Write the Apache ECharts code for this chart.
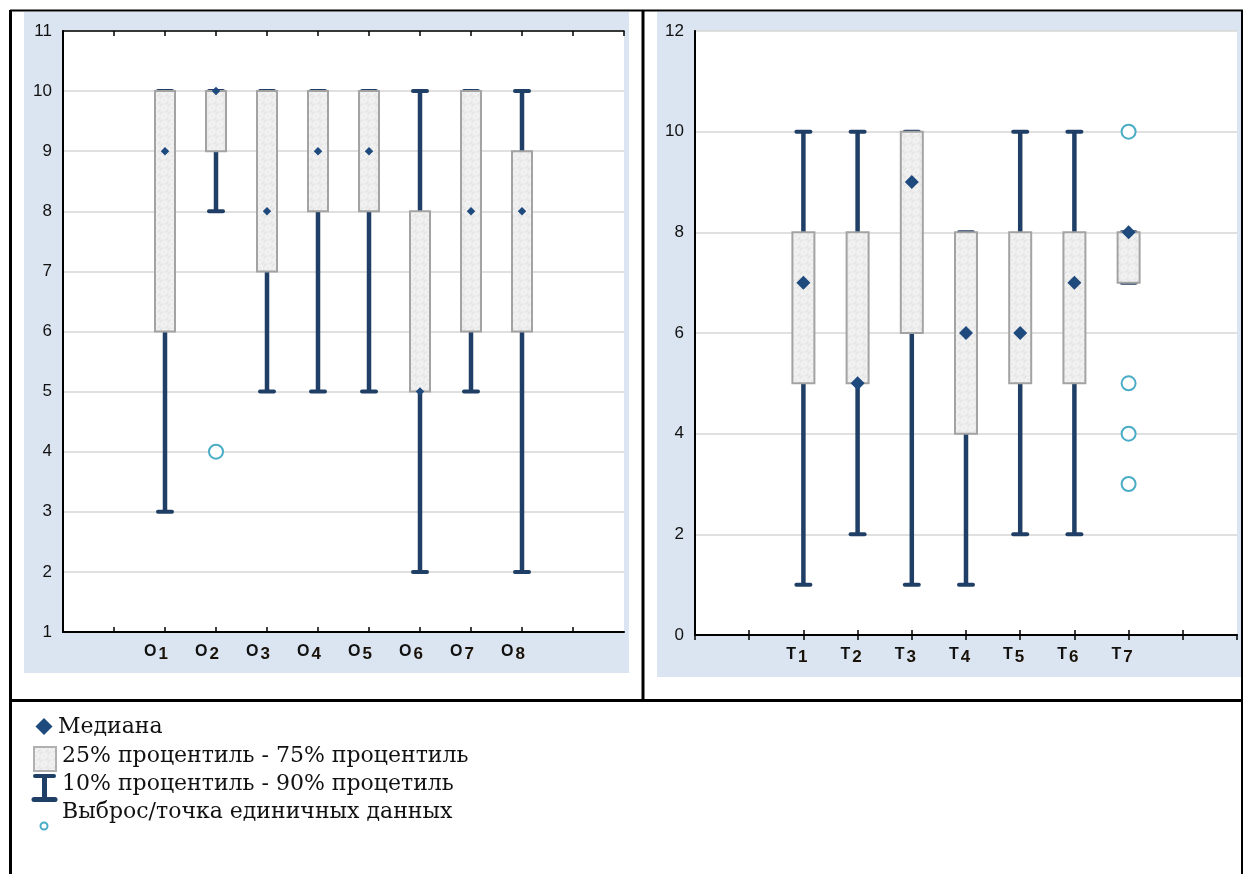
<!DOCTYPE html>
<html>
<head>
<meta charset="utf-8">
<title>Box plots</title>
<script src="https://cdn.jsdelivr.net/npm/echarts@6/dist/echarts.min.js"></script>
<style>
  html, body { margin: 0; padding: 0; background: #ffffff; }
  #chart { width: 1243px; height: 874px; }
</style>
</head>
<body>
<div id="chart"></div>
<script>
// ---- Left panel: O1..O8 (scale 1..11) ----
const categoriesO = ['O1', 'O2', 'O3', 'O4', 'O5', 'O6', 'O7', 'O8'];
const whiskerLowO = [3, 8, 5, 5, 5, 2, 5, 2];
const q1O = [6, 9, 7, 8, 8, 5, 6, 6];
const medianO = [9, 10, 8, 9, 9, 5, 8, 8];
const q3O = [10, 10, 10, 10, 10, 8, 10, 9];
const whiskerHighO = [10, 10, 10, 10, 10, 10, 10, 10];
const outliersO = [['O2', 4]];

// ---- Right panel: T1..T7 (scale 0..12) ----
const categoriesT = ['T1', 'T2', 'T3', 'T4', 'T5', 'T6', 'T7'];
const whiskerLowT = [1, 2, 1, 1, 2, 2, 7];
const q1T = [5, 5, 6, 4, 5, 5, 7];
const medianT = [7, 5, 9, 6, 6, 7, 8];
const q3T = [8, 8, 10, 8, 8, 8, 8];
const whiskerHighT = [10, 10, 10, 8, 10, 10, 8];
const outliersT = [['T7', 10], ['T7', 5], ['T7', 4], ['T7', 3]];

// Legend lines
const legendTexts = [
  'Медиана',
  '25% процентиль - 75% процентиль',
  '10% процентиль - 90% процетиль',
  'Выброс/точка единичных данных'
];

const NAVY = '#203f66';
const DIAMOND = '#1f4a7e';
const TEAL = '#4bacc6';
const PANEL_BG = '#dbe5f1';
const BOX_EDGE = '#a3a3a3';

// categories sit on a numeric axis with two empty slots before them
const SLOT_OFFSET = 2;

// light textured fill for the interquartile boxes
function makeBoxPattern() {
  const c = document.createElement('canvas');
  c.width = 8; c.height = 8;
  const g = c.getContext('2d');
  g.fillStyle = '#ececec';
  g.fillRect(0, 0, 8, 8);
  g.strokeStyle = '#f8f8f8';
  g.lineWidth = 1;
  g.beginPath(); g.arc(4, 4, 2.5, 0, Math.PI * 2); g.stroke();
  g.strokeStyle = '#e0e0e0';
  g.beginPath(); g.arc(0, 0, 2, 0, Math.PI * 2); g.stroke();
  g.beginPath(); g.arc(8, 8, 2, 0, Math.PI * 2); g.stroke();
  return c;
}
const boxPattern = makeBoxPattern();

function buildBoxData(low, q1, med, q3, high) {
  return low.map((_, i) => [i + SLOT_OFFSET, low[i], q1[i], med[i], q3[i], high[i]]);
}

function buildOutliers(categories, outliers) {
  return outliers.map(o => [categories.indexOf(o[0]) + SLOT_OFFSET, o[1]]);
}

function boxRenderer(boxWidth, diamondSize, capWidth) {
  return function (params, api) {
    const x = api.value(0);
    const pLow = api.coord([x, api.value(1)]);
    const pQ1 = api.coord([x, api.value(2)]);
    const pMed = api.coord([x, api.value(3)]);
    const pQ3 = api.coord([x, api.value(4)]);
    const pHigh = api.coord([x, api.value(5)]);
    const cx = pLow[0];
    const half = diamondSize / 2;
    return {
      type: 'group',
      children: [
        { type: 'line', shape: { x1: cx, y1: pLow[1], x2: cx, y2: pHigh[1] },
          style: { stroke: NAVY, lineWidth: 4.5 } },
        { type: 'line', shape: { x1: cx - capWidth / 2, y1: pLow[1], x2: cx + capWidth / 2, y2: pLow[1] },
          style: { stroke: NAVY, lineWidth: 4, lineCap: 'round' } },
        { type: 'line', shape: { x1: cx - capWidth / 2, y1: pHigh[1], x2: cx + capWidth / 2, y2: pHigh[1] },
          style: { stroke: NAVY, lineWidth: 4, lineCap: 'round' } },
        { type: 'rect', shape: { x: cx - boxWidth / 2, y: pQ3[1], width: boxWidth, height: pQ1[1] - pQ3[1] },
          style: { fill: { image: boxPattern, repeat: 'repeat' }, stroke: BOX_EDGE, lineWidth: 2 } },
        { type: 'polygon', shape: { points: [[cx, pMed[1] - half], [cx + half, pMed[1]], [cx, pMed[1] + half], [cx - half, pMed[1]]] },
          style: { fill: DIAMOND } }
      ]
    };
  };
}

function categoryLabel(categories) {
  return function (v) {
    const c = categories[Math.round(v) - SLOT_OFFSET];
    if (!c) return '';
    return '{a|' + c.charAt(0) + '}{b|' + c.slice(1) + '}';
  };
}

const richLabel = {
  a: { fontFamily: 'Liberation Sans', fontWeight: 'bold', fontSize: 16, color: '#111111', lineHeight: 20 },
  b: { fontFamily: 'Liberation Sans', fontWeight: 'bold', fontSize: 17, color: '#1a1208', lineHeight: 20, padding: [4, 0, 0, 2] }
};

function bottomX(gridIndex, max, categories, shift) {
  return {
    gridIndex, type: 'value', min: 0, max, interval: 1, position: 'bottom',
    axisLine: { show: true, lineStyle: { color: '#000', width: 2 } },
    axisTick: { show: true, inside: true, length: 5, lineStyle: { color: '#000', width: 1.5 } },
    splitLine: { show: false },
    axisLabel: { formatter: categoryLabel(categories), rich: richLabel, margin: 10, padding: [0, shift, 0, 0], showMinLabel: false, showMaxLabel: false }
  };
}
function topX(gridIndex, max) {
  return {
    gridIndex, type: 'value', min: 0, max, interval: 1, position: 'top',
    axisLine: { show: true, lineStyle: { color: '#000', width: 1.5 } },
    axisTick: { show: true, inside: true, length: 5, lineStyle: { color: '#000', width: 1.5 } },
    splitLine: { show: false }, axisLabel: { show: false }
  };
}
function leftY(gridIndex, min, max, interval) {
  return {
    gridIndex, type: 'value', min, max, interval, position: 'left',
    axisLine: { show: true, lineStyle: { color: '#000', width: 2 } },
    axisTick: { show: false },
    splitLine: { show: true, lineStyle: { color: '#d6d6d6', width: 1.5 } },
    axisLabel: { color: '#111', fontFamily: 'Liberation Sans', fontSize: 17, margin: 11 }
  };
}
function rightY(gridIndex, min, max, interval) {
  return {
    gridIndex, type: 'value', min, max, interval, position: 'right',
    axisLine: { show: true, lineStyle: { color: '#000', width: 1.5 } },
    axisTick: { show: false }, splitLine: { show: false }, axisLabel: { show: false }
  };
}

// page frame, panel backgrounds and legend
const graphics = [
  { type: 'rect', z: -10, shape: { x: 24, y: 12, width: 605, height: 661 }, style: { fill: PANEL_BG } },
  { type: 'rect', z: -10, shape: { x: 657, y: 12, width: 584, height: 665 }, style: { fill: PANEL_BG } },
  { type: 'line', shape: { x1: 10, y1: 10.5, x2: 1243, y2: 10.5 }, style: { stroke: '#000', lineWidth: 2 } },
  { type: 'line', shape: { x1: 10.5, y1: 10, x2: 10.5, y2: 874 }, style: { stroke: '#000', lineWidth: 3 } },
  { type: 'line', shape: { x1: 643, y1: 10, x2: 643, y2: 700 }, style: { stroke: '#000', lineWidth: 3 } },
  { type: 'line', shape: { x1: 10, y1: 700.5, x2: 1243, y2: 700.5 }, style: { stroke: '#000', lineWidth: 3 } },
  { type: 'line', shape: { x1: 1242, y1: 10, x2: 1242, y2: 874 }, style: { stroke: '#000', lineWidth: 2 } },
  // legend symbols
  { type: 'polygon', shape: { points: [[44, 718], [52.5, 726.5], [44, 735], [35.5, 726.5]] }, style: { fill: DIAMOND } },
  { type: 'rect', shape: { x: 34, y: 747, width: 22, height: 24 }, style: { fill: { image: boxPattern, repeat: 'repeat' }, stroke: '#b0b0b0', lineWidth: 2 } },
  { type: 'line', shape: { x1: 35, y1: 776, x2: 54, y2: 776 }, style: { stroke: NAVY, lineWidth: 4, lineCap: 'round' } },
  { type: 'line', shape: { x1: 44.5, y1: 776, x2: 44.5, y2: 799 }, style: { stroke: NAVY, lineWidth: 5 } },
  { type: 'line', shape: { x1: 34, y1: 799.5, x2: 55, y2: 799.5 }, style: { stroke: NAVY, lineWidth: 5, lineCap: 'round' } },
  { type: 'circle', shape: { cx: 44, cy: 826, r: 3.5 }, style: { fill: '#fff', stroke: TEAL, lineWidth: 2 } }
];
const legendY = [727, 756, 784, 812];
const legendX = [58, 62, 62, 62];
legendTexts.forEach((t, i) => {
  graphics.push({
    type: 'text', x: legendX[i], y: legendY[i],
    style: { text: t, font: '22px "DejaVu Serif"', fill: '#111', verticalAlign: 'middle', align: 'left' }
  });
});

const option = {
  animation: false,
  backgroundColor: '#ffffff',
  grid: [
    { left: 63, top: 31, width: 561, height: 601, show: true, backgroundColor: '#ffffff', borderWidth: 0 },
    { left: 695, top: 31, width: 542, height: 604, show: true, backgroundColor: '#ffffff', borderWidth: 0 }
  ],
  xAxis: [
    bottomX(0, 11, categoriesO, 18),
    topX(0, 11),
    bottomX(1, 10, categoriesT, 13),
    topX(1, 10)
  ],
  yAxis: [
    leftY(0, 1, 11, 1),
    rightY(0, 1, 11, 1),
    leftY(1, 0, 12, 2),
    rightY(1, 0, 12, 2)
  ],
  graphic: { elements: graphics },
  series: [
    { type: 'custom', xAxisIndex: 0, yAxisIndex: 0, clip: false, z: 3,
      renderItem: boxRenderer(20, 8.5, 14),
      data: buildBoxData(whiskerLowO, q1O, medianO, q3O, whiskerHighO) },
    { type: 'scatter', xAxisIndex: 0, yAxisIndex: 0, z: 4,
      symbol: 'emptyCircle', symbolSize: 14,
      itemStyle: { color: TEAL, borderWidth: 2.5, opacity: 1 },
      data: buildOutliers(categoriesO, outliersO) },
    { type: 'custom', xAxisIndex: 2, yAxisIndex: 2, clip: false, z: 3,
      renderItem: boxRenderer(22, 14, 14),
      data: buildBoxData(whiskerLowT, q1T, medianT, q3T, whiskerHighT) },
    { type: 'scatter', xAxisIndex: 2, yAxisIndex: 2, z: 4,
      symbol: 'emptyCircle', symbolSize: 14,
      itemStyle: { color: TEAL, borderWidth: 2.5, opacity: 1 },
      data: buildOutliers(categoriesT, outliersT) }
  ]
};

const chart = echarts.init(document.getElementById('chart'), null, { renderer: 'canvas' });
chart.setOption(option);
</script>
</body>
</html>
